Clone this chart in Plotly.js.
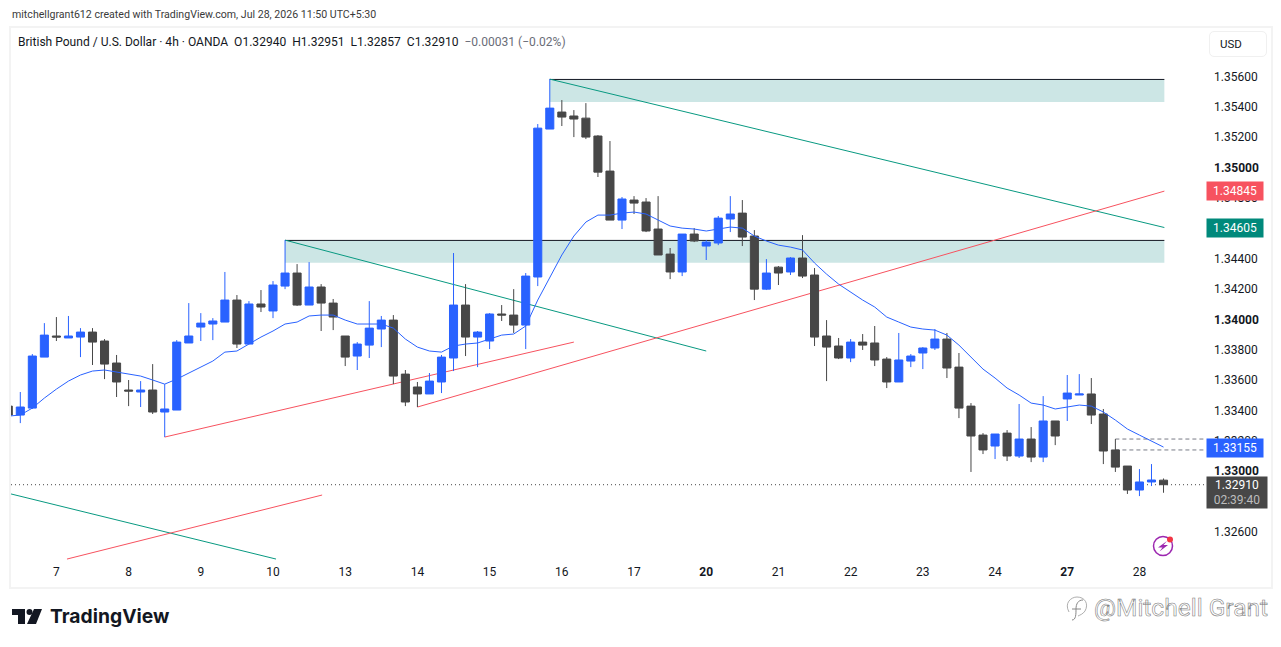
<!DOCTYPE html>
<html>
<head>
<meta charset="utf-8">
<script src="https://cdn.plot.ly/plotly-3.0.1.min.js"></script>
<style>
  html, body { margin: 0; padding: 0; background: #fff; width: 1281px; height: 647px; overflow: hidden; }
  #frame { position: absolute; left: 9px; top: 26px; width: 1260px; height: 559px; border: 2px solid #f3f3f3; }
  #usdBox { position: absolute; left: 1209px; top: 31px; width: 56px; height: 24px; border: 1px solid #f0f0f0; border-radius: 5px; }
  #graph { position: absolute; left: 0; top: 0; width: 1281px; height: 647px; }
  svg.deco { position: absolute; left: 0; top: 0; pointer-events: none; }
  text.annotation-text[data-unformatted^="@Mitchell"] { fill: #fff !important; stroke: #777; stroke-width: 0.55px; }
</style>
</head>
<body>
<div id="frame"></div>
<div id="usdBox"></div>
<div id="graph"></div>
<svg class="deco" width="1281" height="647">
  <!-- tv logo -->
  <path d="M12 609H25V624H18V615H12Z M34 609H42L36 624H27Z" fill="#131722"/>
  <circle cx="29.5" cy="612" r="3" fill="#131722"/>
  <!-- alert icon -->
  <circle cx="1163" cy="546" r="9.5" fill="none" stroke="#9c27b0" stroke-width="1.5"/>
  <path d="M1167 541L1158 547.5H1162.5L1159.5 551.5L1168 545H1163.5Z" fill="#9c27b0"/>
  <circle cx="1170" cy="539.5" r="3" fill="#f23645"/>
  <!-- watermark icon -->
  <path d="M1072 620C1076 620 1076 614 1076 609C1076 604 1078 600 1083 600M1072 609H1081" fill="none" stroke="#888" stroke-width="1"/>
  <path d="M1069 612C1064 603 1071 597 1077 597C1085 597 1089 604 1085 611C1083 614 1080 615 1078 616" fill="none" stroke="#999" stroke-width="0.8"/>
</svg>
<script>
// prices, oldest first (first bar is cut by the left edge)
const opens = [1.33428,1.33369,1.33415,1.33751,1.33890,1.33877,1.33883,1.33916,1.33857,1.33712,1.33534,1.33521,1.33534,1.33389,1.33402,1.33844,1.33949,1.33969,1.33982,1.34127,1.33837,1.34101,1.34055,1.34219,1.34305,1.34094,1.34213,1.34107,1.33890,1.33758,1.33830,1.33936,1.33995,1.33639,1.33554,1.33508,1.33587,1.33745,1.34094,1.33883,1.33857,1.34035,1.34028,1.33962,1.34279,1.35254,1.35366,1.35340,1.35326,1.35208,1.34977,1.34654,1.34786,1.34773,1.34595,1.34430,1.34312,1.34562,1.34483,1.34503,1.34661,1.34700,1.34549,1.34199,1.34344,1.34312,1.34404,1.34292,1.33890,1.33824,1.33745,1.33850,1.33844,1.33738,1.33587,1.33725,1.33778,1.33811,1.33870,1.33685,1.33428,1.33237,1.33165,1.33250,1.33099,1.33211,1.33092,1.33330,1.33475,1.33501,1.33508,1.33376,1.33139,1.33033,1.32875,1.32928,1.32940];
const highs = [1.33468,1.33521,1.33771,1.33975,1.34015,1.34022,1.33942,1.33942,1.33870,1.33765,1.33600,1.33593,1.33705,1.33573,1.33863,1.34107,1.34041,1.34008,1.34312,1.34160,1.34120,1.34193,1.34252,1.34522,1.34364,1.34377,1.34232,1.34134,1.33890,1.33850,1.34120,1.34022,1.34028,1.33666,1.33587,1.33646,1.33765,1.34437,1.34232,1.33923,1.34041,1.34094,1.34199,1.34305,1.35287,1.35583,1.35445,1.35379,1.35425,1.35214,1.35175,1.34806,1.34812,1.34799,1.34812,1.34470,1.34562,1.34601,1.34522,1.34681,1.34812,1.34786,1.34588,1.34397,1.34351,1.34410,1.34555,1.34338,1.33995,1.33877,1.33870,1.33903,1.33956,1.33751,1.33910,1.33771,1.33817,1.33936,1.33910,1.33778,1.33448,1.33250,1.33244,1.33270,1.33442,1.33290,1.33494,1.33330,1.33633,1.33639,1.33613,1.33409,1.33211,1.33033,1.33013,1.33046,1.32951];
const lows = [1.33336,1.33316,1.33409,1.33751,1.33857,1.33877,1.33751,1.33699,1.33606,1.33488,1.33428,1.33422,1.33376,1.33224,1.33402,1.33844,1.33857,1.33863,1.33982,1.33811,1.33837,1.34048,1.34008,1.34199,1.34088,1.34094,1.33923,1.33929,1.33692,1.33666,1.33745,1.33817,1.33573,1.33428,1.33422,1.33508,1.33514,1.33659,1.33758,1.33685,1.33804,1.33989,1.33910,1.33804,1.34219,1.35254,1.35274,1.35201,1.35188,1.34938,1.34654,1.34595,1.34694,1.34575,1.34424,1.34265,1.34285,1.34509,1.34391,1.34489,1.34575,1.34483,1.34127,1.34193,1.34226,1.34292,1.34272,1.33824,1.33593,1.33738,1.33718,1.33798,1.33692,1.33547,1.33587,1.33685,1.33672,1.33798,1.33613,1.33349,1.32994,1.33112,1.33079,1.33066,1.33086,1.33059,1.33059,1.33171,1.33330,1.33501,1.33310,1.33046,1.32994,1.32849,1.32835,1.32901,1.32857];
const closes = [1.33369,1.33422,1.33758,1.33896,1.33883,1.33890,1.33916,1.33850,1.33705,1.33587,1.33527,1.33534,1.33389,1.33409,1.33850,1.33890,1.33975,1.33989,1.34127,1.33837,1.34101,1.34081,1.34226,1.34305,1.34094,1.34213,1.34107,1.34015,1.33751,1.33837,1.33942,1.33995,1.33626,1.33455,1.33508,1.33593,1.33751,1.34094,1.33883,1.33916,1.34035,1.34028,1.33962,1.34285,1.35260,1.35392,1.35333,1.35320,1.35201,1.34970,1.34654,1.34793,1.34766,1.34582,1.34424,1.34312,1.34562,1.34516,1.34509,1.34667,1.34694,1.34542,1.34199,1.34305,1.34305,1.34404,1.34285,1.33883,1.33817,1.33745,1.33850,1.33830,1.33732,1.33587,1.33732,1.33758,1.33811,1.33870,1.33679,1.33415,1.33231,1.33139,1.33244,1.33099,1.33211,1.33092,1.33330,1.33231,1.33514,1.33508,1.33369,1.33132,1.33026,1.32875,1.32928,1.32941,1.32910];
const emaLine = [1.33362,1.33369,1.33415,1.33481,1.33540,1.33593,1.33633,1.33659,1.33666,1.33653,1.33639,1.33626,1.33600,1.33573,1.33606,1.33646,1.33685,1.33725,1.33784,1.33791,1.33837,1.33883,1.33923,1.33969,1.33982,1.34022,1.34028,1.34028,1.33995,1.33969,1.33969,1.33969,1.33942,1.33870,1.33817,1.33791,1.33784,1.33824,1.33837,1.33844,1.33870,1.33896,1.33903,1.33956,1.34127,1.34272,1.34424,1.34549,1.34641,1.34687,1.34687,1.34700,1.34707,1.34694,1.34654,1.34615,1.34601,1.34595,1.34582,1.34595,1.34608,1.34601,1.34549,1.34516,1.34489,1.34476,1.34457,1.34371,1.34298,1.34232,1.34180,1.34127,1.34081,1.34015,1.33982,1.33949,1.33936,1.33929,1.33896,1.33830,1.33751,1.33672,1.33613,1.33547,1.33501,1.33448,1.33435,1.33409,1.33422,1.33435,1.33428,1.33389,1.33336,1.33277,1.33237,1.33198,1.33158];
const barIdx = opens.map((_, i) => i - 1);

const dayLabels = ['7','8','9','10','13','14','15','16','17','<b>20</b>','21','22','23','24','<b>27</b>','28'];
const dayBars = [3,9,15,21,27,33,39,45,51,57,63,69,75,81,87,93];
const priceTicks = [1.326,1.328,1.33,1.332,1.334,1.336,1.338,1.34,1.342,1.344,1.346,1.348,1.35,1.352,1.354,1.356];
const priceLabels = ['1.32600','1.32800','<b>1.33000</b>','1.33200','1.33400','1.33600','1.33800','<b>1.34000</b>','1.34200','1.34400','1.34600','1.34800','<b>1.35000</b>','1.35200','1.35400','1.35600'];

// drawings: bar index and price
const zoneFrom = [44, 22];
const zoneTo = [95.07, 95.07];
const zoneTop = [1.35581, 1.34520];
const zoneBottom = [1.35432, 1.34373];
const tealLines = [[44,1.35583,95.07,1.34605],[22,1.34522,57,1.33791],[-0.77,1.32849,21.25,1.32420]];
const redLines = [[12,1.33224,46,1.33850],[33,1.33422,95.07,1.34845],[3.88,1.32420,25.08,1.32842]];
const dashLevels = [1.33211, 1.33139];
const dashStart = 91;

const tags = [
  {price: 1.34845, text: '1.34845', color: '#f7525f'},
  {price: 1.34605, text: '1.34605', color: '#00897b'},
  {price: 1.33155, text: '1.33155', color: '#2962ff'}
];
const lastPrice = 1.32910;
const countdown = '02:39:40';

const xRange = [-0.773, 98.53];
const yRange = [1.32394, 1.35920];
const M = {l: 11, r: 75, t: 28, b: 84};
const W = 1281, H = 647;
const FONT = 'Roboto, sans-serif';
const INK = '#131722';

// page pixel to paper, for the text outside the plot
const px = v => (v - M.l) / (W - M.l - M.r);
const py = v => 1 - (v - M.t) / (H - M.t - M.b);

const candles = {
  type: 'candlestick',
  x: barIdx, open: opens, high: highs, low: lows, close: closes,
  increasing: {line: {color: '#2962ff', width: 1}, fillcolor: '#2962ff'},
  decreasing: {line: {color: '#474747', width: 1}, fillcolor: '#474747'},
  whiskerwidth: 0,
  hoverinfo: 'skip',
  showlegend: false
};
const ema = {
  type: 'scatter', mode: 'lines',
  x: barIdx, y: emaLine,
  line: {color: '#2962ff', width: 1},
  hoverinfo: 'skip', showlegend: false
};

const shapes = [];
zoneFrom.forEach((x0, i) => {
  shapes.push({type: 'rect', layer: 'below', x0: x0, x1: zoneTo[i], y0: zoneBottom[i], y1: zoneTop[i], fillcolor: '#cce6e5', line: {width: 0}});
  shapes.push({type: 'line', layer: 'below', x0: x0, x1: zoneTo[i], y0: zoneTop[i], y1: zoneTop[i], line: {color: '#131722', width: 1}});
});
tealLines.forEach(l => shapes.push({type: 'line', layer: 'below', x0: l[0], y0: l[1], x1: l[2], y1: l[3], line: {color: '#089981', width: 1}}));
redLines.forEach(l => shapes.push({type: 'line', layer: 'below', x0: l[0], y0: l[1], x1: l[2], y1: l[3], line: {color: '#f7525f', width: 1}}));
dashLevels.forEach(p => shapes.push({type: 'line', layer: 'below', x0: dashStart, x1: xRange[1], y0: p, y1: p, line: {color: '#787b86', width: 1, dash: '4px 3px'}}));
shapes.push({type: 'line', layer: 'below', x0: xRange[0], x1: xRange[1], y0: lastPrice, y1: lastPrice, line: {color: '#474747', width: 1, dash: '1px 3px'}});

const annotations = [
  {x: px(10), y: py(15), xanchor: 'left', text: 'mitchellgrant612 created with TradingView.com, Jul 28, 2026 11:50 UTC+5:30', font: {family: FONT, size: 10.6, color: '#3a3a3a'}},
  {x: px(16), y: py(42), xanchor: 'left', text: 'British Pound / U.S. Dollar · 4h · OANDA  O1.32940  H1.32951  L1.32857  C1.32910  <span style="color:#6a6d78">−0.00031 (−0.02%)</span>', font: {family: FONT, size: 12.05, color: INK}},
  {x: px(1218), y: py(44), xanchor: 'left', text: 'USD', font: {family: FONT, size: 11.5, color: INK}},
  {x: px(48), y: py(616), xanchor: 'left', text: '<b>TradingView</b>', font: {family: 'Inter, sans-serif', size: 19.3, color: INK}},
  {x: px(1092), y: py(607), xanchor: 'left', text: '@Mitchell Grant', font: {family: 'Roboto, sans-serif', size: 24.5, color: '#999'}}
];
tags.forEach(t => annotations.push({
  xref: 'paper', yref: 'y', x: 1, y: t.price, xanchor: 'left', width: 52, height: 14, align: 'center',
  text: t.text, bgcolor: t.color, borderpad: 2, font: {family: FONT, size: 12, color: '#fff'}
}));
annotations.push({
  xref: 'paper', yref: 'paper', x: 1, y: py(492.5), xanchor: 'left', width: 56, height: 27, align: 'center',
  text: lastPrice.toFixed(5) + '<br><span style="color:#bdbdbd">' + countdown + '</span>',
  bgcolor: '#474747', borderpad: 2, font: {family: FONT, size: 12, color: '#fff'}
});
annotations.forEach(a => {
  a.showarrow = false;
  a.xref = a.xref || 'paper';
  a.yref = a.yref || 'paper';
  a.yanchor = 'middle';
});

const layout = {
  width: W, height: H,
  margin: {l: M.l, r: M.r, t: M.t, b: M.b, pad: 0},
  paper_bgcolor: 'rgba(0,0,0,0)',
  plot_bgcolor: 'rgba(0,0,0,0)',
  showlegend: false,
  boxgap: 0.33,
  boxgroupgap: 0,
  xaxis: {
    type: 'linear', range: xRange, fixedrange: true,
    rangeslider: {visible: false},
    tickmode: 'array', tickvals: dayBars, ticktext: dayLabels,
    showgrid: false, zeroline: false, showline: false, ticks: '',
    tickfont: {family: FONT, size: 12, color: INK}
  },
  yaxis: {
    type: 'linear', side: 'right', range: yRange, fixedrange: true,
    tickmode: 'array', tickvals: priceTicks, ticktext: priceLabels,
    showgrid: false, zeroline: false, showline: false, ticks: '',
    ticklabelstandoff: 7,
    tickfont: {family: FONT, size: 12, color: INK}
  },
  shapes: shapes,
  annotations: annotations
};

Plotly.newPlot('graph', [candles, ema], layout, {displayModeBar: false, responsive: false});
</script>
</body>
</html>
